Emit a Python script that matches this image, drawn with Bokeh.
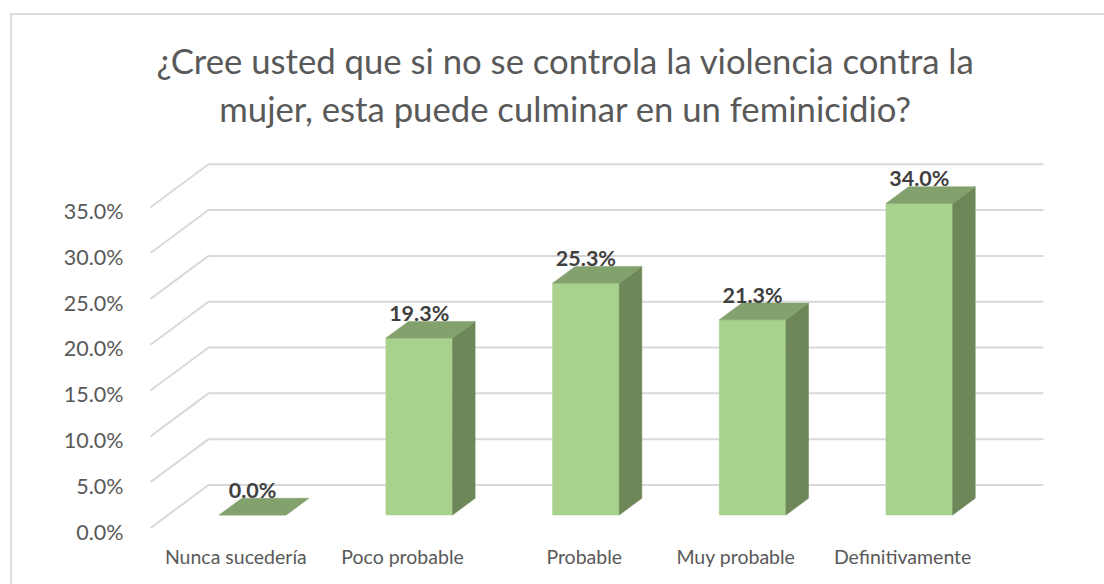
from bokeh.embed import file_html
from bokeh.resources import INLINE
from bokeh.plotting import figure
from bokeh.models import Range1d, LinearAxis, FixedTicker, Title, ColumnDataSource
from bokeh.core.properties import value

title_lines = ["¿Cree usted que si no se controla la violencia contra la",
               "mujer, esta puede culminar en un feminicidio?"]
categories = ["Nunca sucedería", "Poco probable", "Probable", "Muy probable", "Definitivamente"]
values = [0.0, 19.3, 25.3, 21.3, 34.0]
value_labels = ["0.0%", "19.3%", "25.3%", "21.3%", "34.0%"]
y_ticks = [0, 5, 10, 15, 20, 25, 30, 35]
y_tick_labels = ["0.0%", "5.0%", "10.0%", "15.0%", "20.0%", "25.0%", "30.0%", "35.0%"]

PXX = 166.7   # px per category
PXY = 9.165   # px per percent
FONT = "Lato"
FRAME_L, FRAME_R, FRAME_T, FRAME_B = 26, 1104, 131, 584
X0, Y0 = 252, 514.5   # page position of category 0, value 0
BAR_W = 0.4
DX, DY = 22.6 / PXX, 16.7 / PXY

p = figure(width=1092, height=569, frame_width=FRAME_R - FRAME_L, frame_height=FRAME_B - FRAME_T,
           output_backend="svg", toolbar_location=None,
           x_range=Range1d((FRAME_L - X0) / PXX, (FRAME_R - X0) / PXX),
           y_range=Range1d((Y0 - FRAME_B) / PXY, (Y0 - FRAME_T) / PXY),
           min_border_left=14, min_border_right=0, min_border_top=FRAME_T - 15, min_border_bottom=0,
           x_axis_location=None, y_axis_location=None, outline_line_color=None, margin=(13, 0, 0, 10))
p.styles = {"border-top": "2px solid #dcdcdc", "border-left": "2px solid #dcdcdc"}
p.grid.visible = False

# titles
for line, standoff in ((title_lines[1], 6), (title_lines[0], 4)):
    p.add_layout(Title(text=line, align="center", text_font=FONT, text_font_size="34.7px",
                       text_font_style="normal", text_color="#595959", standoff=standoff), "above")

# perspective gridlines
gx = [[(150 - X0) / PXX, (208 - X0) / PXX, (1043 - X0) / PXX] for _ in y_ticks]
gy = [[t - 13 / PXY, t + 30 / PXY, t + 30 / PXY] for t in y_ticks]
p.multi_line(gx, gy, line_color="#d9d9d9", line_width=2)

# bars
idx = list(range(len(values)))
left = [i - BAR_W / 2 for i in idx]
right = [i + BAR_W / 2 for i in idx]
p.quad(left=left, right=right, bottom=0, top=values, fill_color="#a9d18e", line_color="#a9d18e", line_width=0.5)
p.patches([[r, r + DX, r + DX, r] for r in right],
          [[0, DY, v + DY, v] for v in values],
          fill_color="#6d8759", line_color="#6d8759", line_width=0.5)
p.patches([[l, l + DX, r + DX, r] for l, r in zip(left, right)],
          [[v, v + DY, v + DY, v] for v in values],
          fill_color="#82a16d", line_color="#82a16d", line_width=0.5)

# data labels
src = ColumnDataSource(dict(x=idx, y=[v + 25 / PXY for v in values], t=value_labels))
p.text("x", "y", text="t", source=src, text_align="center", text_baseline="alphabetic",
       text_font=value(FONT), text_font_style="bold", text_font_size="21.5px", text_color="#404040")

# axes placed inside the frame through their own ranges
p.extra_y_ranges["axis"] = Range1d(p.y_range.start + 16.7 / PXY, p.y_range.end + 16.7 / PXY)
ya = LinearAxis(y_range_name="axis", fixed_location=(129 - X0) / PXX,
                ticker=FixedTicker(ticks=y_ticks),
                major_label_overrides=dict(zip(y_ticks, y_tick_labels)),
                axis_line_color=None, major_tick_line_color=None, minor_tick_line_color=None,
                major_label_standoff=0, major_label_text_font=FONT, major_label_text_font_size="21.5px",
                major_label_text_color="#595959")
p.add_layout(ya, "left")

x_pos = [-0.1, 0.9, 1.99, 2.9, 3.9]
xa = LinearAxis(fixed_location=(Y0 - 538) / PXY, ticker=FixedTicker(ticks=x_pos),
                major_label_overrides=dict(zip(x_pos, categories)),
                axis_line_color=None, major_tick_line_color=None, minor_tick_line_color=None,
                major_label_standoff=0, major_label_text_font=FONT, major_label_text_font_size="19.5px",
                major_label_text_color="#595959")
p.add_layout(xa, "below")

open("out.html", "w").write(file_html(p, INLINE))
